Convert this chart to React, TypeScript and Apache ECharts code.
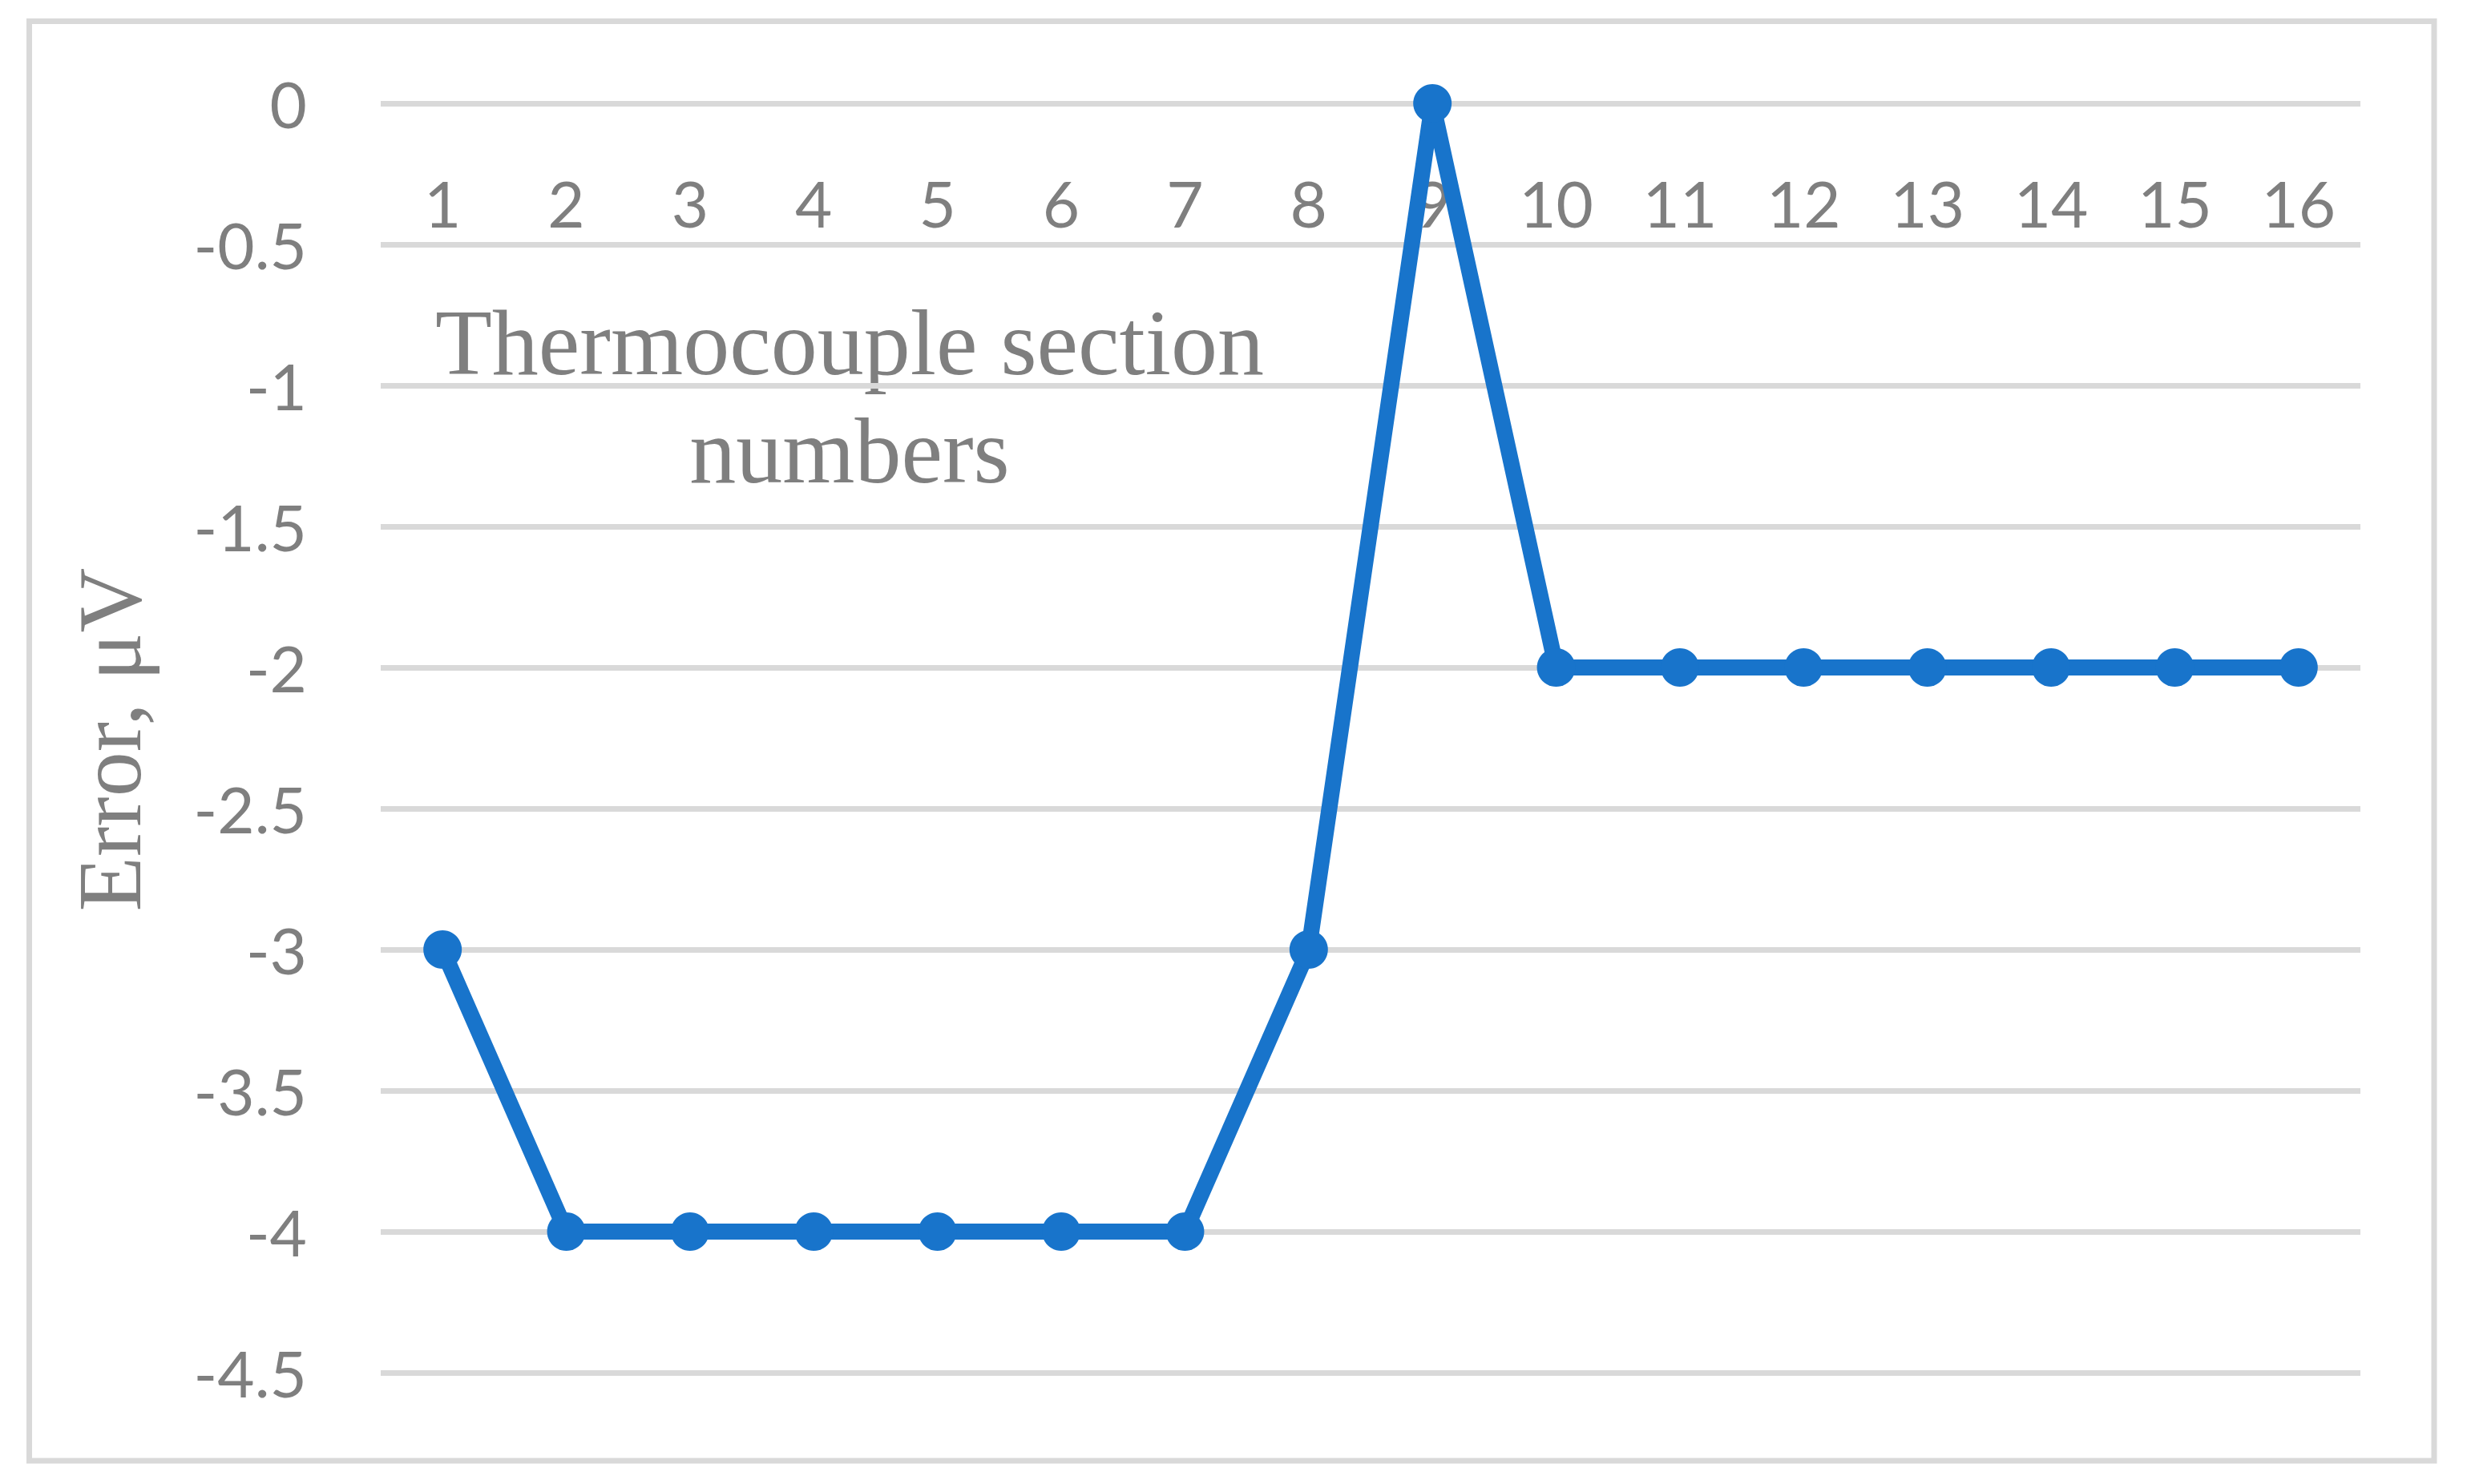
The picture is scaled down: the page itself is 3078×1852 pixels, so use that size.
import React, { useEffect, useRef } from "react";
import * as echarts from "echarts";

const categories = ["1", "2", "3", "4", "5", "6", "7", "8", "9", "10", "11", "12", "13", "14", "15", "16"];
const errorValues = [-3, -4, -4, -4, -4, -4, -4, -3, 0, -2, -2, -2, -2, -2, -2, -2];
const xTitleLines = ["Thermocouple section", "numbers"];
const yTitle = "Error, μV";

export default function App() {
  const ref = useRef<HTMLDivElement>(null);
  useEffect(() => {
    if (!ref.current) return;
    const chart = echarts.init(ref.current, undefined, { renderer: "svg" });
    const gray = "#7f7f7f";
    const grid = "#d9d9d9";
    const option = {
      animation: false,
      backgroundColor: "#ffffff",
      grid: { left: 475, right: 133, top: 129, bottom: 139 },
      xAxis: {
        type: "category",
        data: categories,
        position: "top",
        boundaryGap: true,
        axisLine: { show: false },
        axisTick: { show: false },
        axisLabel: {
          inside: true,
          margin: 84,
          color: gray,
          fontFamily: "Lato",
          fontSize: 80,
        },
        splitLine: { show: false },
      },
      yAxis: {
        type: "value",
        min: -4.5,
        max: 0,
        interval: 0.5,
        axisLine: { show: false },
        axisTick: { show: false },
        axisLabel: {
          margin: 92,
          color: gray,
          fontFamily: "Lato",
          fontSize: 80,
        },
        splitLine: { show: true, lineStyle: { color: grid, width: 7 } },
      },
      graphic: [
        {
          type: "rect",
          shape: { x: 36.5, y: 26.5, width: 3000.5, height: 1796.5 },
          style: { fill: "none", stroke: grid, lineWidth: 7 },
          silent: true,
          z: -1,
        },
        {
          type: "text",
          x: 1060,
          y: 428,
          style: {
            text: xTitleLines[0],
            fill: gray,
            font: "116px 'Liberation Serif'",
            textAlign: "center",
            textVerticalAlign: "middle",
          },
        },
        {
          type: "text",
          x: 1060,
          y: 563,
          style: {
            text: xTitleLines[1],
            fill: gray,
            font: "116px 'Liberation Serif'",
            textAlign: "center",
            textVerticalAlign: "middle",
          },
        },
        {
          type: "text",
          x: 137,
          y: 923,
          rotation: Math.PI / 2,
          style: {
            text: yTitle,
            fill: gray,
            font: "112px 'Liberation Serif'",
            textAlign: "center",
            textVerticalAlign: "middle",
          },
        },
      ],
      series: [
        {
          type: "line",
          data: errorValues,
          symbol: "circle",
          symbolSize: 48,
          lineStyle: { color: "#1874cb", width: 20 },
          itemStyle: { color: "#1874cb" },
          z: 5,
        },
      ],
    };
    chart.setOption(option as any);
    return () => chart.dispose();
  }, []);
  return (
    <div
      ref={ref}
      style={{ position: "fixed", left: 0, top: 0, width: 3078, height: 1852 }}
    />
  );
}
